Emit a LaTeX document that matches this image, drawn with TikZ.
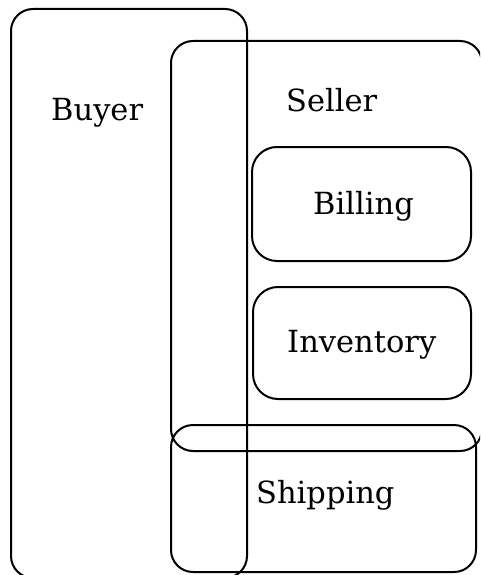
\documentclass[tikz,border=0pt]{standalone}
\usepackage{fontspec}
\setmainfont{DejaVu Serif}
\begin{document}
\begin{tikzpicture}[x=1pt,y=-1pt,
  area/.style={draw=black, line width=2pt, rounded corners=22pt, inner sep=0pt, outer sep=0pt},
  part/.style={area, rounded corners=25pt},
  lbl/.style={font=\fontsize{30.5}{36}\selectfont, inner sep=0pt, anchor=base west}]
  \useasboundingbox (0,0) rectangle (480,575);
  \clip (0,0) rectangle (480,575);
  % context regions: corner to corner
  \node[area, minimum width=236pt, minimum height=569pt] (buyer) at (129,293.5) {};
  \node[area, minimum width=311pt, minimum height=410pt] (seller) at (326.5,246) {};
  \node[part, minimum width=219pt, minimum height=114pt] (billing) at (361.5,204) {};
  \node[part, minimum width=218pt, minimum height=112pt] (inventory) at (362,343) {};
  \node[area, minimum width=305pt, minimum height=147pt] (shipping) at (323.5,498.5) {};
  % labels
  \node[lbl] (buyerlbl) at (51,121) {Buyer};
  \node[lbl] (sellerlbl) at (286,111) {Seller};
  \node[lbl] (billinglbl) at (313,214) {Billing};
  \node[lbl] (inventorylbl) at (287,352) {Inventory};
  \node[lbl] (shippinglbl) at (256,503) {Shipping};
\end{tikzpicture}
\end{document}
